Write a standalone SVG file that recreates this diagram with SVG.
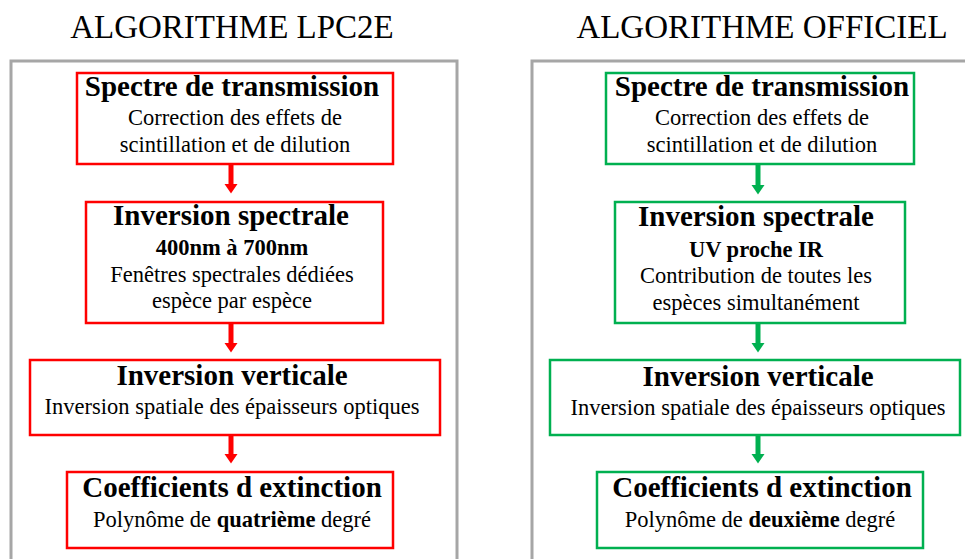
<svg xmlns="http://www.w3.org/2000/svg" width="965" height="559" viewBox="0 0 965 559">
<defs>
<style>
.frame{fill:none;stroke:#a6a6a6;stroke-width:3}
.r{fill:#fff;stroke:#ff0000;stroke-width:2.5}
.g{fill:#fff;stroke:#00b050;stroke-width:2.5}
text{font-family:"Liberation Serif","Times New Roman",serif;fill:#000;text-anchor:middle}
.h{font-size:33px}
.t{font-size:29px;font-weight:bold}
.s{font-size:22.5px}
.sb{font-size:22.5px;font-weight:bold}
.b{font-weight:bold}
.cr{stroke:#ff0000;stroke-width:5;fill:none}
.cg{stroke:#00b050;stroke-width:5;fill:none}
</style>
<marker id="ahR" markerUnits="userSpaceOnUse" markerWidth="10" markerHeight="14" refX="0" refY="6.5" orient="auto"><path d="M0,0 L9.5,6.5 L0,13 Z" fill="#ff0000"/></marker>
<marker id="ahG" markerUnits="userSpaceOnUse" markerWidth="10" markerHeight="14" refX="0" refY="6.5" orient="auto"><path d="M0,0 L9.5,6.5 L0,13 Z" fill="#00b050"/></marker>
</defs>
<rect width="965" height="559" fill="#fff"/>
<text class="h" x="232" y="38">ALGORITHME LPC2E</text>
<text class="h" x="762" y="38">ALGORITHME OFFICIEL</text>
<rect class="frame" x="11" y="61" width="446" height="530"/>
<rect class="frame" x="532" y="61" width="460" height="530"/>
<g id="connectors">
<line class="cr" x1="231" y1="165" x2="231" y2="184" marker-end="url(#ahR)"/>
<line class="cr" x1="231" y1="323" x2="231" y2="343" marker-end="url(#ahR)"/>
<line class="cr" x1="231" y1="435" x2="231" y2="454" marker-end="url(#ahR)"/>
<line class="cg" x1="758" y1="165" x2="758" y2="185" marker-end="url(#ahG)"/>
<line class="cg" x1="758" y1="323" x2="758" y2="343" marker-end="url(#ahG)"/>
<line class="cg" x1="758" y1="435" x2="758" y2="454" marker-end="url(#ahG)"/>
</g>
<g id="l1">
<rect class="r" x="77" y="73" width="316" height="91"/>
<text class="t" x="232" y="96">Spectre de transmission</text>
<text class="s" x="235" y="125">Correction des effets de</text>
<text class="s" x="235" y="152">scintillation et de dilution</text>
</g>
<g id="l2">
<rect class="r" x="86" y="202" width="297" height="121"/>
<text class="t" x="231" y="225">Inversion spectrale</text>
<text class="sb" x="232" y="255">400nm à 700nm</text>
<text class="s" x="232" y="282">Fenêtres spectrales dédiées</text>
<text class="s" x="232" y="308">espèce par espèce</text>
</g>
<g id="l3">
<rect class="r" x="30" y="360" width="410" height="75"/>
<text class="t" x="232" y="385">Inversion verticale</text>
<text class="s" x="232" y="414">Inversion spatiale des épaisseurs optiques</text>
</g>
<g id="l4">
<rect class="r" x="67" y="472" width="326" height="76"/>
<text class="t" x="232" y="497">Coefficients d extinction</text>
<text class="s" x="232" y="527">Polynôme de <tspan class="b">quatrième</tspan> degré</text>
</g>
<g id="r1">
<rect class="g" x="606" y="73" width="308" height="91"/>
<text class="t" x="762" y="96">Spectre de transmission</text>
<text class="s" x="762" y="125">Correction des effets de</text>
<text class="s" x="762" y="152">scintillation et de dilution</text>
</g>
<g id="r2">
<rect class="g" x="615" y="202" width="290" height="121"/>
<text class="t" x="756" y="226">Inversion spectrale</text>
<text class="sb" x="756" y="257">UV proche IR</text>
<text class="s" x="756" y="283">Contribution de toutes les</text>
<text class="s" x="756" y="310">espèces simultanément</text>
</g>
<g id="r3">
<rect class="g" x="550" y="360" width="410" height="75"/>
<text class="t" x="758" y="386">Inversion verticale</text>
<text class="s" x="758" y="415">Inversion spatiale des épaisseurs optiques</text>
</g>
<g id="r4">
<rect class="g" x="597" y="472" width="326" height="76"/>
<text class="t" x="762" y="497">Coefficients d extinction</text>
<text class="s" x="760" y="527">Polynôme de <tspan class="b">deuxième</tspan> degré</text>
</g>
</svg>
